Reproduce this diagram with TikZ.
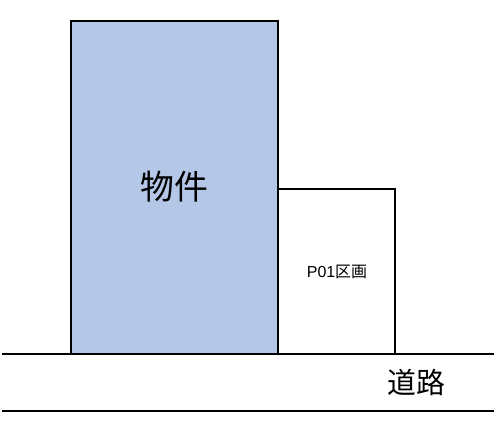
\documentclass[tikz,border=0pt]{standalone}
\usepackage{fontspec}
\setmainfont{Liberation Sans}
\newfontfamily\cjk{Noto Sans CJK JP}
\definecolor{bukkenblue}{HTML}{B4C7E7}
\tikzset{
	plot/.style={line width=1.5bp, draw=black},
	label/.style={inner sep=0pt, font=\cjk}
}

\begin{document}
\begin{tikzpicture}[x=1bp, y=-1bp]
		%%%%% START %%%%%
		
		\useasboundingbox (0, 0) rectangle (494, 432);
		
		\draw[plot, fill=bukkenblue] (71, 21) rectangle (278, 354);
		\draw[plot] (278, 189) -- (395, 189) -- (395, 354);
		
		\draw[plot] (2, 354) -- (494, 354);
		\draw[plot] (2, 411) -- (494, 411);
		
		\node[label, font=\cjk\fontsize{34}{40}\selectfont] (bukken) at (174, 187) {物件};
		\node[label, font=\fontsize{16}{19}\selectfont] (kukaku) at (337, 272) {P01{\cjk 区画}};
		\node[label, font=\cjk\fontsize{29}{34}\selectfont] (douro) at (416, 382) {道路};
		
		%%%%% END %%%%%
	\end{tikzpicture}
\end{document}
